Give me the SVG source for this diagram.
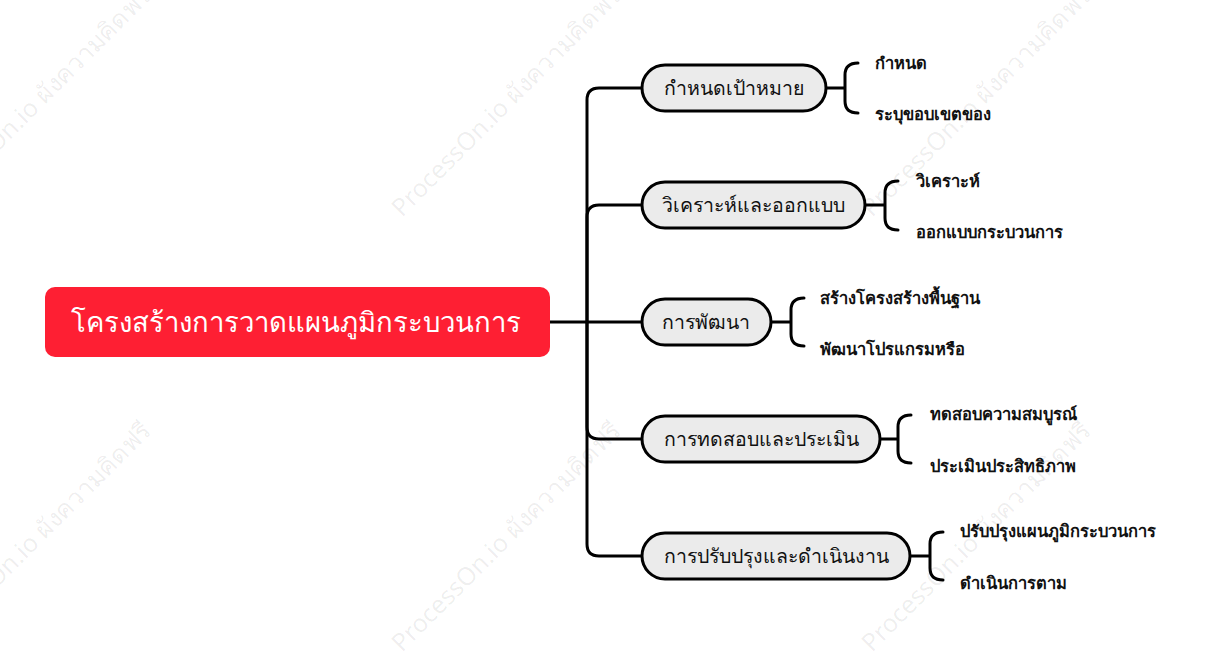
<svg xmlns="http://www.w3.org/2000/svg" width="1221" height="660" viewBox="0 0 1221 660">
<style>
.wm{font-family:"Noto Sans","DejaVu Sans",sans-serif;font-size:25px;fill:#000;fill-opacity:0.07}
.conn{fill:none;stroke:#000;stroke-width:3;stroke-linecap:round;stroke-linejoin:round}
.topic rect{fill:#ebebeb;stroke:#000;stroke-width:3}
.topic text{font-family:"Noto Sans","DejaVu Sans",sans-serif;font-size:19.5px;fill:#111}
.sub{font-family:"Noto Sans","DejaVu Sans",sans-serif;font-size:16.5px;font-weight:600;fill:#111}
.root-t{font-family:"Noto Sans","DejaVu Sans",sans-serif;font-size:27.5px;fill:#fff;font-weight:500}
</style>
<rect width="1221" height="660" fill="#fff"/>
<g id="watermarks">
<text class="wm" transform="translate(-68,218) rotate(-45)">ProcessOn.io ผังความคิดฟรี</text>
<text class="wm" transform="translate(402,218) rotate(-45)">ProcessOn.io ผังความคิดฟรี</text>
<text class="wm" transform="translate(872,218) rotate(-45)">ProcessOn.io ผังความคิดฟรี</text>
<text class="wm" transform="translate(-68,653) rotate(-45)">ProcessOn.io ผังความคิดฟรี</text>
<text class="wm" transform="translate(402,653) rotate(-45)">ProcessOn.io ผังความคิดฟรี</text>
<text class="wm" transform="translate(872,653) rotate(-45)">ProcessOn.io ผังความคิดฟรี</text>
</g>
<g id="connectors" class="conn">
<path d="M550 322 H642"/>
<path d="M587 322 V100 Q587 88 599 88 H642"/>
<path d="M587 322 V217 Q587 205 599 205 H642"/>
<path d="M587 322 V427 Q587 439 599 439 H642"/>
<path d="M587 322 V544 Q587 556 599 556 H642"/>
<path d="M826 88 H845 M858 63 Q845 63 845 75 V101 Q845 113 858 113"/>
<path d="M865 205 H885 M898 181 Q885 181 885 193 V218 Q885 230 898 230"/>
<path d="M771 322 H791 M804 298 Q791 298 791 310 V334 Q791 346 804 346"/>
<path d="M880 439 H898 M911 415 Q898 415 898 427 V451 Q898 463 911 463"/>
<path d="M910 556 H930 M943 532 Q930 532 930 544 V568 Q930 580 943 580"/>
</g>
<g id="root">
<rect x="45" y="287" width="505" height="70" rx="10" fill="#fe1f33"/>
<text class="root-t" x="296" y="332" text-anchor="middle">โครงสร้างการวาดแผนภูมิกระบวนการ</text>
</g>
<g id="t1" class="topic">
<rect x="642" y="65" width="184" height="46" rx="23"/>
<text x="734" y="95" text-anchor="middle">กำหนดเป้าหมาย</text>
</g>
<g id="t2" class="topic">
<rect x="642" y="182" width="223" height="46" rx="23"/>
<text x="753" y="212" text-anchor="middle">วิเคราะห์และออกแบบ</text>
</g>
<g id="t3" class="topic">
<rect x="642" y="299" width="129" height="46" rx="23"/>
<text x="706" y="329" text-anchor="middle">การพัฒนา</text>
</g>
<g id="t4" class="topic">
<rect x="642" y="416" width="238" height="46" rx="23"/>
<text x="761" y="446" text-anchor="middle">การทดสอบและประเมิน</text>
</g>
<g id="t5" class="topic">
<rect x="642" y="533" width="268" height="46" rx="23"/>
<text x="776" y="563" text-anchor="middle">การปรับปรุงและดำเนินงาน</text>
</g>
<g id="s1a"><text class="sub" x="875" y="69">กำหนด</text></g>
<g id="s1b"><text class="sub" x="875" y="120">ระบุขอบเขตของ</text></g>
<g id="s2a"><text class="sub" x="916" y="187">วิเคราะห์</text></g>
<g id="s2b"><text class="sub" x="916" y="238">ออกแบบกระบวนการ</text></g>
<g id="s3a"><text class="sub" x="820" y="304">สร้างโครงสร้างพื้นฐาน</text></g>
<g id="s3b"><text class="sub" x="820" y="355">พัฒนาโปรแกรมหรือ</text></g>
<g id="s4a"><text class="sub" x="930" y="420">ทดสอบความสมบูรณ์</text></g>
<g id="s4b"><text class="sub" x="930" y="472">ประเมินประสิทธิภาพ</text></g>
<g id="s5a"><text class="sub" x="960" y="537">ปรับปรุงแผนภูมิกระบวนการ</text></g>
<g id="s5b"><text class="sub" x="960" y="589">ดำเนินการตาม</text></g>
</svg>
